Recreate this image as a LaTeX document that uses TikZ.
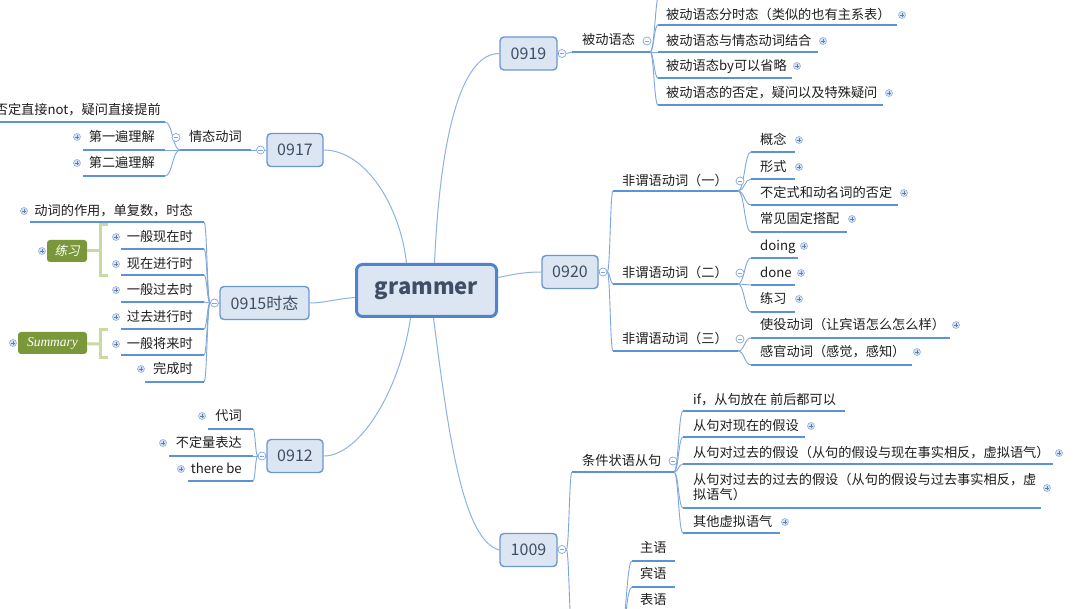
\documentclass[tikz,border=0pt]{standalone}
\usepackage{fontspec}
\setmainfont{Noto Sans CJK SC}
\newfontfamily\cjkslant[FakeSlant=0.22]{Noto Sans CJK SC}
\newfontfamily\serifit{Liberation Serif}
\usetikzlibrary{calc}
\definecolor{lineC}{HTML}{7FA7DE}
\definecolor{ulC}{HTML}{5C92DA}
\definecolor{rootL}{HTML}{8DB3E6}
\definecolor{boxF}{HTML}{DCE6F2}
\definecolor{boxB}{HTML}{6C98D2}
\definecolor{rootB}{HTML}{5084CA}
\definecolor{boxT}{HTML}{3E4E65}
\definecolor{leafT}{HTML}{1E1E1E}
\definecolor{icoF}{HTML}{D5E2F5}
\definecolor{icoB}{HTML}{93B3E0}
\definecolor{grnF}{HTML}{7A983A}
\definecolor{grnL}{HTML}{C8DAA2}
\tikzset{
 leaf/.style={inner sep=0pt, text height=11pt, text depth=2pt, font=\fontsize{13.2}{15}\selectfont, text=leafT},
 ul/.style={draw=ulC, line width=1.8pt},
 br/.style={draw=lineC, line width=0.9pt},
 rl/.style={draw=rootL, line width=1pt},
 box/.style={draw=boxB, fill=boxF, line width=1.4pt, rounded corners=4pt, minimum height=33pt, text=boxT, font=\fontsize{16}{19}\selectfont, inner xsep=6pt},
 root/.style={draw=rootB, fill=boxF, line width=3pt, rounded corners=6pt, minimum width=140pt, minimum height=52pt, text=boxT, font=\fontsize{22}{26}\selectfont\bfseries},
 expico/.style={circle, inner sep=0pt, minimum size=7pt, draw=icoB, fill=icoF, line width=0.6pt,
   path picture={\draw[icoB!70!black, line width=0.5pt] ($(path picture bounding box.center)+(-2,0)$) -- +(4,0) ($(path picture bounding box.center)+(0,-2)$) -- +(0,4);}},
 colico/.style={circle, inner sep=0pt, minimum size=8pt, draw=lineC, fill=white, line width=0.7pt,
   path picture={\draw[lineC, line width=0.7pt] ($(path picture bounding box.center)+(-2.2,0)$) -- +(4.4,0);}},
 grn/.style={fill=grnF, rounded corners=3pt, text=white, minimum height=22pt, inner xsep=5pt, inner ysep=0pt},
 brk/.style={draw=grnL, line width=3pt},
}
% name, text x, text y, ul near x, ul far x, ul y, icon x, text
\newcommand\rleaf[8]{%
  \node[leaf,anchor=west] (#1) at (#2,#3) {#8};
  \coordinate (#1-a) at (#4,#6);
  \coordinate (#1-b) at (#5,#6);
  \draw[ul] (#1-a) -- (#1-b);
  \if\relax\detokenize{#7}\relax\else\node[expico] (#1-i) at (#7,#3) {};\fi}
\newcommand\lleaf[8]{%
  \node[leaf,anchor=east] (#1) at (#2,#3) {#8};
  \coordinate (#1-a) at (#4,#6);
  \coordinate (#1-b) at (#5,#6);
  \draw[ul] (#1-a) -- (#1-b);
  \if\relax\detokenize{#7}\relax\else\node[expico] (#1-i) at (#7,#3) {};\fi}
\newcommand\brc[2]{\draw[br] let \p1=(#1),\p2=(#2) in (\p1) .. controls ({0.5*\x1+0.5*\x2},\y1) and ({0.5*\x1+0.5*\x2},\y2) .. (\p2);}
\begin{document}
\begin{tikzpicture}[x=1pt,y=-1pt]
\useasboundingbox (0,0) rectangle (1080,609);
\clip (0,0) rectangle (1080,609);
\fill[white] (0,0) rectangle (1080,609);

% central topic and main topics
\node[root] (root) at (426.5,290.5) {grammer};
\node[box, minimum width=56pt] (b0917) at (295,150) {0917};
\node[box, minimum width=89pt] (b0915) at (264.5,303) {0915时态};
\node[box, minimum width=56pt] (b0912) at (295,456) {0912};
\node[box, minimum width=57pt] (b0919) at (528.5,53.5) {0919};
\node[box, minimum width=56pt] (b0920) at (570,272) {0920};
\node[box, minimum width=57pt] (b1009) at (528.5,550) {1009};

\draw[rl] ([xshift=-20pt]root.north) .. controls (400,205) and (365,150) .. (b0917.east);
\draw[rl] ([xshift=8pt]root.north) .. controls (440,140) and (460,53.5) .. (b0919.west);
\draw[rl] ([yshift=13pt]root.east) .. controls (515,274) and (525,272) .. (b0920.west);
\draw[rl] ([yshift=-7pt]root.west) .. controls (335,299) and (325,303) .. (b0915.east);
\draw[rl] ([xshift=-16pt]root.south) .. controls (400,390) and (360,456) .. (b0912.east);
\draw[rl] ([xshift=7pt]root.south) .. controls (448,430) and (462,540) .. (b1009.west);

% ---------- 0917 ----------
\node[colico] (c0917) at (260.5,150) {};
\draw[br] (c0917) -- (b0917.west);
\lleaf{qt}{242}{137}{251}{180}{150}{}{情态动词}
\draw[br] (c0917) -- (qt-a);
\lleaf{n1}{161}{110}{165}{-5}{122}{}{否定直接not，疑问直接提前}
\lleaf{n2}{155}{137}{165}{83}{150}{77}{第一遍理解}
\lleaf{n3}{155}{163}{165}{83}{176}{77}{第二遍理解}
\brc{qt-b}{n1-a}\brc{qt-b}{n2-a}\brc{qt-b}{n3-a}
\node[colico] (qtc) at (176,137.5) {};

% ---------- 0915 ----------
\node[colico] (c0915) at (214.5,303) {};
\draw[br] (c0915) -- (b0915.west);
\lleaf{t1}{193}{211}{204}{30}{222}{24}{动词的作用，单复数，时态}
\lleaf{t2}{193}{237}{204}{121}{249}{116}{一般现在时}
\lleaf{t3}{193}{264}{204}{121}{275}{116}{现在进行时}
\lleaf{t4}{193}{290}{204}{121}{302}{116}{一般过去时}
\lleaf{t5}{193}{317}{204}{121}{329}{116}{过去进行时}
\lleaf{t6}{193}{344}{204}{121}{355}{116}{一般将来时}
\lleaf{t7}{193}{369}{204}{145}{382}{141}{完成时}
\foreach \k in {t1,t2,t3,t4,t5,t6,t7}{\brc{c0915.west}{\k-a}}
% summary labels
\node[grn, minimum width=40pt, font=\fontsize{12.5}{14}\selectfont\cjkslant] (lx) at (67,251) {练习};
\node[expico] (lx-i) at (42,251) {};
\draw[brk] (108,225) -- (100,225) -- (100,276) -- (108,276);
\coordinate (lxk) at (100,251);
\draw[brk] (lxk) -- (lx);
\node[grn, minimum width=69pt, font=\fontsize{13.5}{15}\selectfont\serifit\itshape] (sm) at (52.5,343) {Summary};
\node[expico] (sm-i) at (13,343) {};
\draw[brk] (108,330) -- (100,330) -- (100,358) -- (108,358);
\coordinate (smk) at (100,344);
\draw[brk] (smk) -- (sm);

% ---------- 0912 ----------
\node[colico] (c0912) at (262,456) {};
\draw[br] (c0912) -- (b0912.west);
\lleaf{p1}{242}{416}{253}{208}{429}{202}{代词}
\lleaf{p2}{242}{443}{253}{169}{456}{163}{不定量表达}
\lleaf{p3}{242}{469}{253}{188}{481}{181}{there be}
\foreach \k in {p1,p2,p3}{\brc{c0912.west}{\k-a}}

% ---------- 0919 ----------
\node[colico] (c0919) at (562,53.5) {};
\draw[br] (c0919) -- (b0919.east);
\rleaf{bd}{582}{40}{572}{650}{52}{}{被动语态}
\brc{c0919.east}{bd-a}
\coordinate (q0-a) at (660,-8);
\rleaf{q1}{666}{15}{658}{897}{25}{902}{被动语态分时态（类似的也有主系表）}
\rleaf{q2}{666}{41}{658}{818}{52}{823}{被动语态与情态动词结合}
\rleaf{q3}{666}{66}{658}{792}{78}{797}{被动语态by可以省略}
\rleaf{q4}{666}{93}{658}{883}{105}{889}{被动语态的否定，疑问以及特殊疑问}
\foreach \k in {q0,q1,q2,q3,q4}{\brc{bd-b}{\k-a}}
\node[colico] (bdc) at (647,41) {};

% ---------- 0920 ----------
\node[colico] (c0920) at (603,272) {};
\draw[br] (c0920) -- (b0920.east);
\rleaf{f1}{622}{181}{613}{738}{191}{}{非谓语动词（一）}
\rleaf{f2}{622}{273}{613}{738}{284}{}{非谓语动词（二）}
\rleaf{f3}{622}{339}{613}{738}{351}{}{非谓语动词（三）}
\foreach \k in {f1,f2,f3}{\brc{c0920.east}{\k-a}}
\rleaf{g1}{760}{140}{751}{795}{152}{799}{概念}
\rleaf{g2}{760}{167}{751}{795}{179}{799}{形式}
\rleaf{g3}{760}{193}{751}{898}{205}{904}{不定式和动名词的否定}
\rleaf{g4}{760}{219}{751}{847}{232}{852}{常见固定搭配}
\foreach \k in {g1,g2,g3,g4}{\brc{f1-b}{\k-a}}
\rleaf{h1}{760}{246}{751}{798}{258}{804}{doing}
\rleaf{h2}{760}{273}{751}{795}{285}{801}{done}
\rleaf{h3}{760}{299}{751}{795}{312}{799}{练习}
\foreach \k in {h1,h2,h3}{\brc{f2-b}{\k-a}}
\rleaf{k1}{760}{325}{751}{950}{338}{956}{使役动词（让宾语怎么怎么样）}
\rleaf{k2}{760}{352}{751}{912}{365}{917}{感官动词（感觉，感知）}
\foreach \k in {k1,k2}{\brc{f3-b}{\k-a}}
\node[colico] (f1c) at (740,181) {};
\node[colico] (f2c) at (740,273) {};
\node[colico] (f3c) at (740,339) {};

% ---------- 1009 ----------
\node[colico] (c1009) at (562,549.5) {};
\draw[br] (c1009) -- (b1009.east);
\rleaf{tj}{582}{461}{572}{674}{472}{}{条件状语从句}
\coordinate (hid-a) at (572,628);
\coordinate (hid-b) at (621,628);
\brc{c1009.east}{tj-a}\brc{c1009.east}{hid-a}
\rleaf{r1}{693}{400}{683}{845}{411}{}{if，从句放在 前后都可以}
\rleaf{r2}{693}{426}{683}{805}{437}{811}{从句对现在的假设}
\rleaf{r3}{693}{453}{683}{1053}{464}{1059}{从句对过去的假设（从句的假设与现在事实相反，虚拟语气）}
\node[anchor=west, inner sep=0pt, align=left, font=\fontsize{13.2}{15.5}\selectfont, text=leafT] (r4) at (693,487) {从句对过去的过去的假设（从句的假设与过去事实相反，虚\\拟语气）};
\coordinate (r4-a) at (683,508);
\coordinate (r4-b) at (1041,508);
\draw[ul] (r4-a) -- (r4-b);
\node[expico] (r4-i) at (1047,488) {};
\rleaf{r5}{693}{522}{683}{780}{533}{785}{其他虚拟语气}
\foreach \k in {r1,r2,r3,r4,r5}{\brc{tj-b}{\k-a}}
\node[colico] (tjc) at (673,461) {};
\rleaf{s1}{640}{548}{632}{675}{561}{}{主语}
\rleaf{s2}{640}{574}{632}{675}{587}{}{宾语}
\rleaf{s3}{640}{600}{632}{675}{614}{}{表语}
\foreach \k in {s1,s2,s3}{\brc{hid-b}{\k-a}}
\end{tikzpicture}
\end{document}
